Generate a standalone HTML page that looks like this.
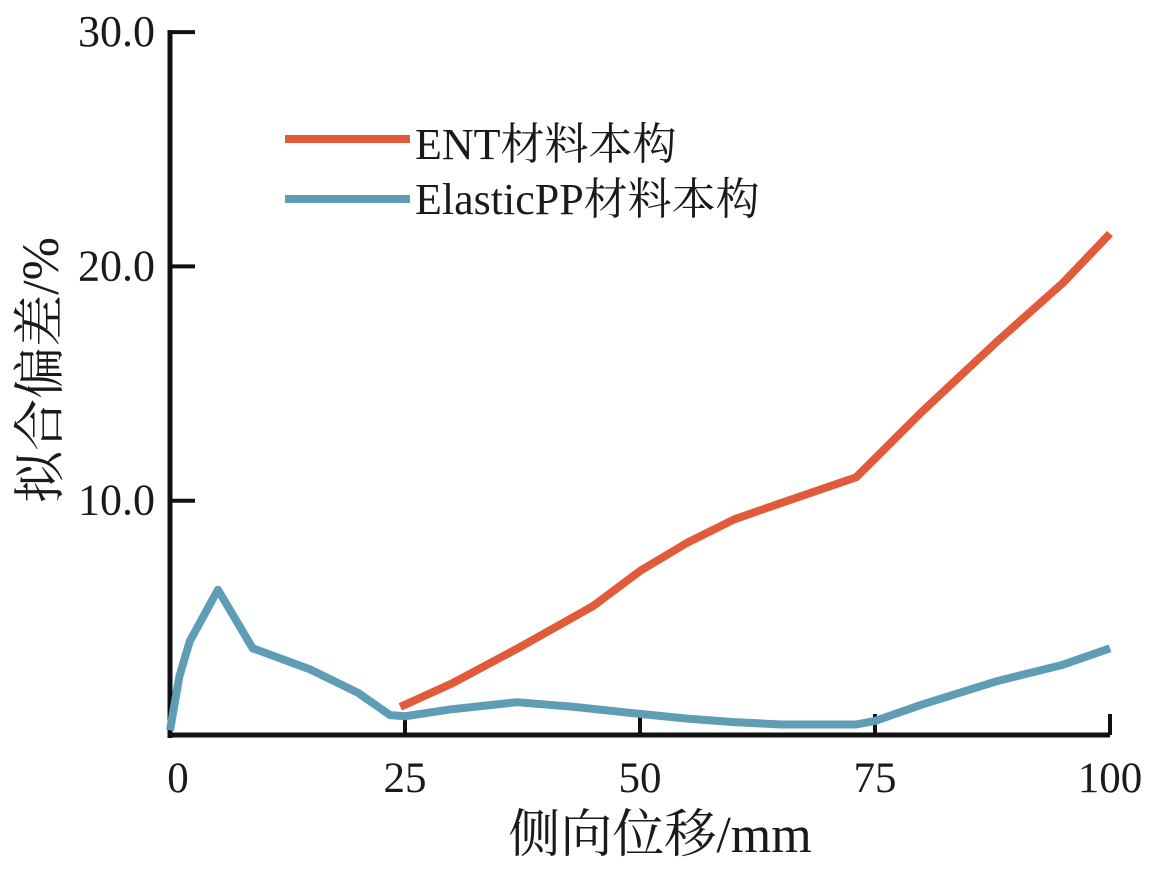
<!DOCTYPE html>
<html><head><meta charset="utf-8"><style>
body{margin:0;background:#fff}
svg text{font-family:"Liberation Serif","Noto Serif CJK SC",serif;fill:#1a1a1a}
</style></head><body>
<svg id="chart" width="1154" height="870" xmlns="http://www.w3.org/2000/svg"></svg>
<script>
const xTicks=[0,25,50,75,100];
const yTicks=[10,20,30];
const yTickLabels=["10.0","20.0","30.0"];
const entX=[24.5,30,37,45,50,55,60,65,73,80,88,95,100];
const entY=[1.2,2.2,3.7,5.5,7.0,8.2,9.2,9.9,11.0,13.8,16.8,19.3,21.4];
const ppX=[0,1,2.1,5.1,8.8,14.9,20,23.4,25,30,36.9,43,50,55,60,65,73,75,80,88,95,100];
const ppY=[0.2,2.5,4.0,6.2,3.7,2.8,1.8,0.85,0.8,1.1,1.4,1.2,0.9,0.7,0.55,0.45,0.45,0.6,1.3,2.3,3.0,3.7];
const NS="http://www.w3.org/2000/svg";
const svg=document.getElementById('chart');
const X=v=>170+v*9.4, Y=v=>735-v*23.43;
function mk(t,a,txt){const e=document.createElementNS(NS,t);for(const k in a)e.setAttribute(k,a[k]);if(txt!=null)e.textContent=txt;svg.appendChild(e);return e;}
let e;
e=mk('line',{x1:170,y1:30,x2:170,y2:738,stroke:'#111','stroke-width':5});


e=mk('line',{x1:168,y1:735,x2:1110,y2:735,stroke:'#111','stroke-width':5});


xTicks.forEach(t=>{
 if(t>0){e=mk('line',{x1:X(t),y1:735,x2:X(t),y2:714,stroke:'#111','stroke-width':4});
 
 }
 e=mk('text',{x:X(t)+(t===0?8:0),y:792,'font-size':43,'text-anchor':'middle'},String(t));
 
 
});
yTicks.forEach((t,i)=>{
 e=mk('line',{x1:170,y1:Y(t),x2:195,y2:Y(t),stroke:'#111','stroke-width':4});
 
 
 e=mk('text',{x:155,y:Y(t)+14,'font-size':44,'text-anchor':'end'},yTickLabels[i]);
 
 
});
function series(xs,ys,c,name){
 const d=xs.map((x,i)=>(i?'L':'M')+X(x)+','+Y(ys[i])).join(' ');
 const p=mk('path',{d:d,fill:'none',stroke:c,'stroke-width':8,'stroke-linejoin':'round'});
 
 
}
series(ppX,ppY,'#5e9db5','elasticpp-line');
series(entX,entY,'#e15a3a','ent-line');
e=mk('line',{x1:285,y1:139,x2:410,y2:139,stroke:'#e15a3a','stroke-width':8});


e=mk('text',{x:415,y:159,'font-size':44},'ENT材料本构');


e=mk('line',{x1:285,y1:199,x2:410,y2:199,stroke:'#5e9db5','stroke-width':8});


e=mk('text',{x:415,y:214,'font-size':44},'ElasticPP材料本构');


e=mk('text',{x:660,y:852,'font-size':52,'text-anchor':'middle'},'侧向位移/mm');


e=mk('text',{x:0,y:0,'font-size':52,'text-anchor':'middle',transform:'translate(58,370) rotate(-90)'},'拟合偏差/%');


</script>
</body></html>
